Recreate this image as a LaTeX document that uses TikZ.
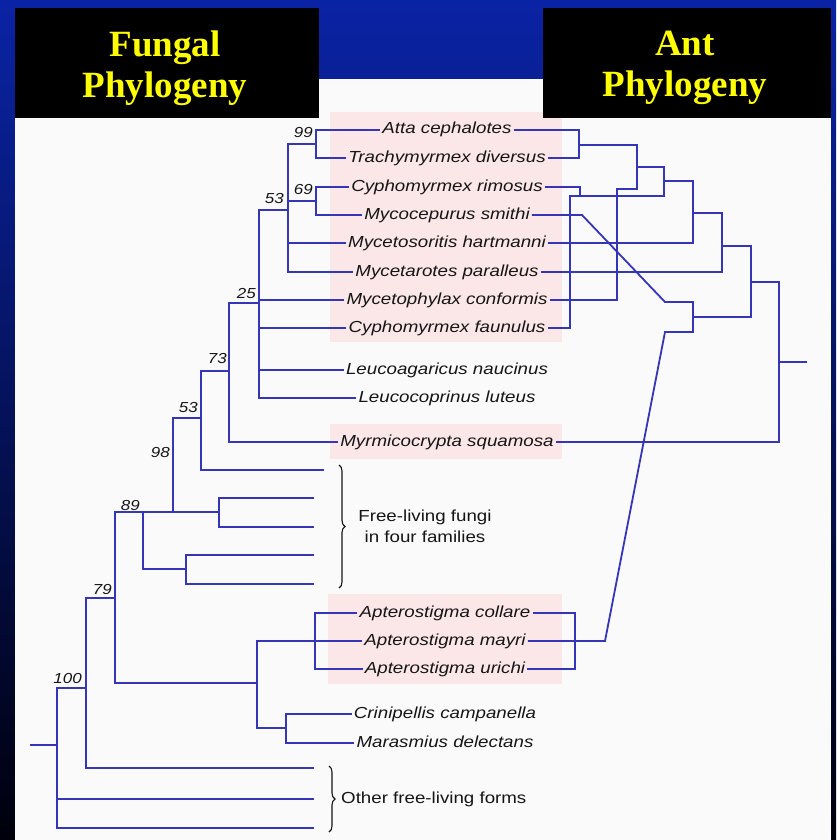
\documentclass[tikz,border=0pt]{standalone}
\usepackage{fontspec}
\setmainfont{Liberation Sans}
\newfontfamily\taxfont[FakeStretch=1.17]{Liberation Sans}
\newfontfamily\titlefont{Liberation Serif}
\usetikzlibrary{positioning, decorations.pathreplacing}
\definecolor{SlideBlue}{HTML}{0A23A5}
\definecolor{SlideMid}{HTML}{06157A}
\definecolor{SlideNavy}{HTML}{00000C}
\definecolor{PaperWhite}{HTML}{FAFAFA}
\definecolor{HiPink}{HTML}{FBE6E8}
\definecolor{TreeBlue}{HTML}{3535B8}
\definecolor{TitleYellow}{HTML}{FFFF00}
\definecolor{InkGray}{HTML}{151515}
\tikzset{
    % Taxon name
    taxon/.style={
        inner sep=2pt,
        text height=11.5pt,
        text depth=3.5pt,
        text=InkGray,
        font=\taxfont\itshape\fontsize{16}{18}\selectfont
    },
    % Group label
    grouplabel/.style={
        align=center,
        inner sep=0pt,
        text=InkGray,
        font=\taxfont\fontsize{16}{21}\selectfont
    },
    % Bootstrap value
    boot/.style={
        anchor=base east,
        inner sep=0pt,
        text=InkGray,
        font=\taxfont\itshape\fontsize{14.5}{16}\selectfont
    },
    % Tree branch
    branch/.style={
        draw=TreeBlue,
        line width=1.8pt
    },
    % Curly brace
    groupbrace/.style={
        decorate,
        decoration={brace, amplitude=6pt},
        draw=InkGray,
        line width=1.1pt
    },
    % Title box
    titlebox/.style={
        fill=black
    },
    % Title text
    titletext/.style={
        text=TitleYellow,
        align=center,
        inner sep=0pt,
        font=\titlefont\bfseries\fontsize{37}{41}\selectfont
    },
    % Highlight band
    highlight/.style={
        fill=HiPink,
        draw=none
    }
}

\begin{document}
\begin{tikzpicture}[x=1pt, y=-1pt]
    \useasboundingbox (0,0) rectangle (836,840);
    \shade [top color=SlideBlue, middle color=SlideMid, bottom color=SlideNavy] (0,0) rectangle (836,840);
    \fill [PaperWhite] (15,79) rectangle (831,840);

    % Highlight bands
    \fill [highlight] (330,112) rectangle (562,342);
    \fill [highlight] (330,424) rectangle (562,459);
    \fill [highlight] (328,594) rectangle (562,684);

    % Titles
    \fill [titlebox] (15,8) rectangle (319,118);
    \fill [titlebox] (543,8) rectangle (831,118);
    \node (fungaltitle) [titletext] at (165,68) {Fungal\\Phylogeny};
    \node (anttitle) [titletext] at (685,68) {Ant\\Phylogeny};

    % Taxa
    \node (atta) [taxon] at (447,130) {Atta cephalotes};
    \node (trachy) [taxon] at (447,158) {Trachymyrmex diversus};
    \node (rimosus) [taxon] at (447,187) {Cyphomyrmex rimosus};
    \node (smithi) [taxon] at (447,215) {Mycocepurus smithi};
    \node (hartmanni) [taxon] at (447,243) {Mycetosoritis hartmanni};
    \node (paralleus) [taxon] at (447,272) {Mycetarotes paralleus};
    \node (conformis) [taxon] at (447,300) {Mycetophylax conformis};
    \node (faunulus) [taxon] at (447,328) {Cyphomyrmex faunulus};
    \node (naucinus) [taxon] at (447,370) {Leucoagaricus naucinus};
    \node (luteus) [taxon] at (447,398) {Leucocoprinus luteus};
    \node (squamosa) [taxon] at (447,442) {Myrmicocrypta squamosa};
    \node (collare) [taxon] at (445,613) {Apterostigma collare};
    \node (mayri) [taxon] at (445,641) {Apterostigma mayri};
    \node (urichi) [taxon] at (445,669) {Apterostigma urichi};
    \node (campanella) [taxon] at (445,714) {Crinipellis campanella};
    \node (delectans) [taxon] at (445,743) {Marasmius delectans};

    % Unnamed leaves
    \coordinate (fl1) at (324,470);
    \coordinate (fl2) at (314,498);
    \coordinate (fl3) at (314,527);
    \coordinate (fl4) at (314,555);
    \coordinate (fl5) at (314,584);
    \coordinate (of1) at (314,768);
    \coordinate (of2) at (314,799);
    \coordinate (of3) at (314,828);

    % Fungal nodes
    \coordinate (n99) at (316,144);
    \coordinate (n69) at (316,201);
    \coordinate (n53a) at (288,210);
    \coordinate (n25) at (259,303);
    \coordinate (n73) at (229,371);
    \coordinate (n53b) at (201,418);
    \coordinate (nfa) at (219,512);
    \coordinate (n98) at (173,512);
    \coordinate (nfb) at (186,569);
    \coordinate (n89) at (143,512);
    \coordinate (napt) at (315,641);
    \coordinate (ncm) at (286,728);
    \coordinate (nac) at (257,683);
    \coordinate (n79) at (115,598);
    \coordinate (n86) at (86,688);
    \coordinate (n100) at (57,745);
    \coordinate (froot) at (30,745);

    \draw [branch] (atta.west) -| (n99) |- (trachy.west);
    \draw [branch] (rimosus.west) -| (n69) |- (smithi.west);
    \draw [branch] (n99) -| (n53a) |- (paralleus.west);
    \draw [branch] (n69) -- (n69 -| n53a);
    \draw [branch] (hartmanni.west) -- (hartmanni.west -| n53a);
    \draw [branch] (n53a) -| (n25) |- (luteus.west);
    \draw [branch] (conformis.west) -- (conformis.west -| n25);
    \draw [branch] (faunulus.west) -- (faunulus.west -| n25);
    \draw [branch] (naucinus.west) -- (naucinus.west -| n25);
    \draw [branch] (n25) -| (n73) |- (squamosa.west);
    \draw [branch] (n73) -| (n53b) |- (fl1);
    \draw [branch] (fl2) -| (nfa) |- (fl3);
    \draw [branch] (n53b) -| (n98) |- (nfa);
    \draw [branch] (fl4) -| (nfb) |- (fl5);
    \draw [branch] (n98) -| (n89) |- (nfb);
    \draw [branch] (collare.west) -| (napt) |- (urichi.west);
    \draw [branch] (mayri.west) -- (napt);
    \draw [branch] (campanella.west) -| (ncm) |- (delectans.west);
    \draw [branch] (napt) -| (nac) |- (ncm);
    \draw [branch] (n89) -| (n79) |- (nac);
    \draw [branch] (n79) -| (n86) |- (of1);
    \draw [branch] (n86) -| (n100) |- (of3);
    \draw [branch] (of2) -- (of2 -| n100);
    \draw [branch] (froot) -- (n100);

    % Bootstrap values
    \node (b99) [boot] at (313,137) {99};
    \node (b69) [boot] at (313,194) {69};
    \node (b53a) [boot] at (284,203) {53};
    \node (b25) [boot] at (256,298) {25};
    \node (b73) [boot] at (227,363) {73};
    \node (b53b) [boot] at (198,412) {53};
    \node (b98) [boot] at (170,457) {98};
    \node (b89) [boot] at (140,510) {89};
    \node (b79) [boot] at (112,594) {79};
    \node (b100) [boot] at (82,683) {100};

    % Free-living groups
    \coordinate (br1top) at (339,465);
    \coordinate (br1bot) at (339,588);
    \coordinate (br2top) at (329,766);
    \coordinate (br2bot) at (329,832);
    \draw [groupbrace] (br1top) -- (br1bot);
    \draw [groupbrace] (br2top) -- (br2bot);
    \node (freefungi) [grouplabel] at (425,526) {Free-living fungi\\in four families};
    \node (otherforms) [grouplabel, anchor=west] at (341,799) {Other free-living forms};

    % Ant nodes
    \coordinate (a1) at (579,145);
    \coordinate (a2) at (637,167);
    \coordinate (cfbend) at (617,189);
    \coordinate (a3) at (580,196);
    \coordinate (fbend) at (570,196);
    \coordinate (a4) at (664,181);
    \coordinate (a5) at (693,213);
    \coordinate (a6) at (722,246);
    \coordinate (a7) at (751,282);
    \coordinate (a9) at (693,317);
    \coordinate (smkink) at (582,215);
    \coordinate (smfoot) at (665,302);
    \coordinate (apfoot) at (665,332);
    \coordinate (aptop) at (605,641);
    \coordinate (napt2) at (575,641);
    \coordinate (a8) at (779,362);
    \coordinate (aroot) at (807,362);

    \draw [branch] (atta.east) -| (a1) |- (trachy.east);
    \draw [branch] (a1) -| (a2) |- (cfbend) |- (conformis.east);
    \draw [branch] (rimosus.east) -| (a3) -- (fbend) |- (faunulus.east);
    \draw [branch] (a2) -| (a4) |- (a3);
    \draw [branch] (a4) -| (a5) |- (hartmanni.east);
    \draw [branch] (a5) -| (a6) |- (paralleus.east);
    \draw [branch] (a6) -| (a7) |- (a9);
    \draw [branch] (smithi.east) -- (smkink) -- (smfoot) -| (a9) |- (apfoot) -- (aptop) -- (mayri.east);
    \draw [branch] (collare.east) -| (napt2) |- (urichi.east);
    \draw [branch] (a7) -| (a8) |- (squamosa.east);
    \draw [branch] (a8) -- (aroot);
\end{tikzpicture}
\end{document}
